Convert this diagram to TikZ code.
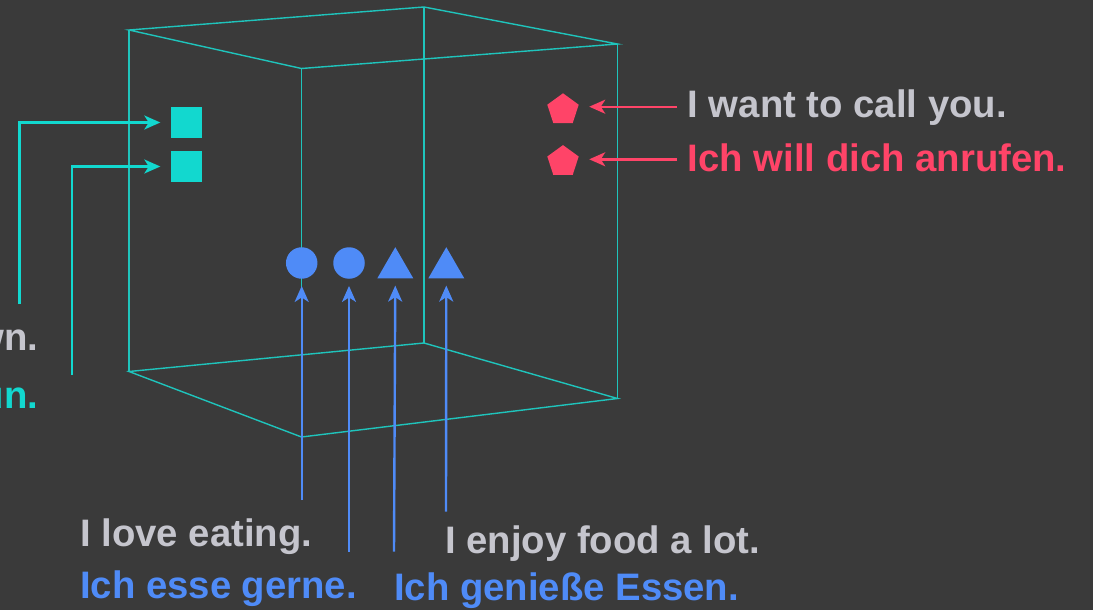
\documentclass[tikz,border=0pt]{standalone}
\usepackage{fontspec}
\setmainfont{Liberation Sans}
\usetikzlibrary{shapes.geometric,arrows.meta}
\definecolor{bgc}{HTML}{3A3A3A}
\definecolor{txtgray}{HTML}{C5C5CD}
\definecolor{redc}{HTML}{FF4468}
\definecolor{bluec}{HTML}{4F8BF7}
\definecolor{tealc}{HTML}{12D8CF}
\definecolor{cubec}{HTML}{1FC4BC}
\tikzset{
  lbl/.style={inner sep=0pt, font=\bfseries\fontsize{38.3}{42}\selectfont},
  cubeline/.style={draw=cubec, line width=1.4pt, line join=miter},
  arrtip/.style={-{Stealth[length=16pt,width=14pt,inset=4.5pt]}},
  tealarr/.style={arrtip, draw=tealc, line width=2.4pt, shorten >=10pt},
  redarr/.style={arrtip, draw=redc, line width=2.4pt, shorten >=12pt},
  bluearr/.style={arrtip, draw=bluec, line width=2.4pt, shorten >=7pt},
  sqshape/.style={rectangle, fill=tealc, minimum size=31pt, inner sep=0pt},
  pentshape/.style={regular polygon, regular polygon sides=5, fill=redc, minimum size=33pt, inner sep=0pt},
  circshape/.style={circle, fill=bluec, minimum size=31.5pt, inner sep=0pt},
  trishape/.style={regular polygon, regular polygon sides=3, fill=bluec, minimum size=41.6pt, inner sep=0pt},
}
\begin{document}
\begin{tikzpicture}[x=1pt,y=-1pt]
\useasboundingbox (0,0) rectangle (1093,610);
\clip (0,0) rectangle (1093,610);
\fill[bgc] (0,0) rectangle (1093,610);

% cube
\coordinate (A) at (129,30);
\coordinate (B) at (424,7);
\coordinate (C) at (617.5,44);
\coordinate (D) at (301.5,68.5);
\coordinate (E) at (129,371.5);
\coordinate (F) at (424,343);
\coordinate (G) at (617.5,398.5);
\coordinate (H) at (301.5,437);
\draw[cubeline] (A) -- (B) -- (C) -- (D) -- cycle;
\draw[cubeline] (E) -- (F) -- (G) -- (H) -- cycle;
\draw[cubeline] (A) -- (E) (B) -- (F) (C) -- (G) (D) -- (H);

% shapes
\node[sqshape] (sq1) at (186,122.5) {};
\node[sqshape] (sq2) at (186,166.5) {};
\node[pentshape] (p1) at (563,109.8) {};
\node[pentshape] (p2) at (563,161.6) {};
\node[circshape] (c1) at (301.7,263) {};
\node[circshape] (c2) at (349,263) {};
\node[trishape] (t1) at (395.3,268) {};
\node[trishape] (t2) at (446.3,268) {};

% labels
\node[lbl, text=txtgray, anchor=base east] (lw) at (38.5,350) {own.};
\node[lbl, text=tealc, anchor=base east] (lu) at (38.5,408.3) {nun.};
\node[lbl, text=txtgray, anchor=base west] (lcall) at (687.5,117.3) {I want to call you.};
\node[lbl, text=redc, anchor=base west] (lanruf) at (687.5,171.7) {Ich will dich anrufen.};
\node[lbl, text=txtgray, anchor=base west] (llove) at (80,546.7) {I love eating.};
\node[lbl, text=bluec, anchor=base west] (lesse) at (80,598.7) {Ich esse gerne.};
\node[lbl, text=txtgray, anchor=base west] (lenjoy) at (445,553.3) {I enjoy food a lot.};
\node[lbl, text=bluec, anchor=base west] (lgen) at (394,600) {Ich genieße Essen.};

% connector start points
\coordinate (ts1) at (19.5,304);
\coordinate (ts2) at (71.7,375);
\coordinate (rs1) at (677,106.7);
\coordinate (rs2) at (677,159.3);
\coordinate (bs1) at (301.7,500);
\coordinate (bs2) at (349,551.7);
\coordinate (bs3) at (394,551.7);
\coordinate (bs4) at (446,511.7);

% connectors
\draw[tealarr] (ts1) |- (sq1.west);
\draw[tealarr] (ts2) |- (sq2.west);
\draw[redarr] (rs1) -- (rs1 -| p1.east);
\draw[redarr] (rs2) -- (rs2 -| p2.east);
\draw[bluearr] (bs1) -- (c1.south);
\draw[bluearr] (bs2) -- (c2.south);
\draw[bluearr] (bs3) -- (t1.south);
\draw[bluearr] (bs4) -- (t2.south);
\end{tikzpicture}
\end{document}
